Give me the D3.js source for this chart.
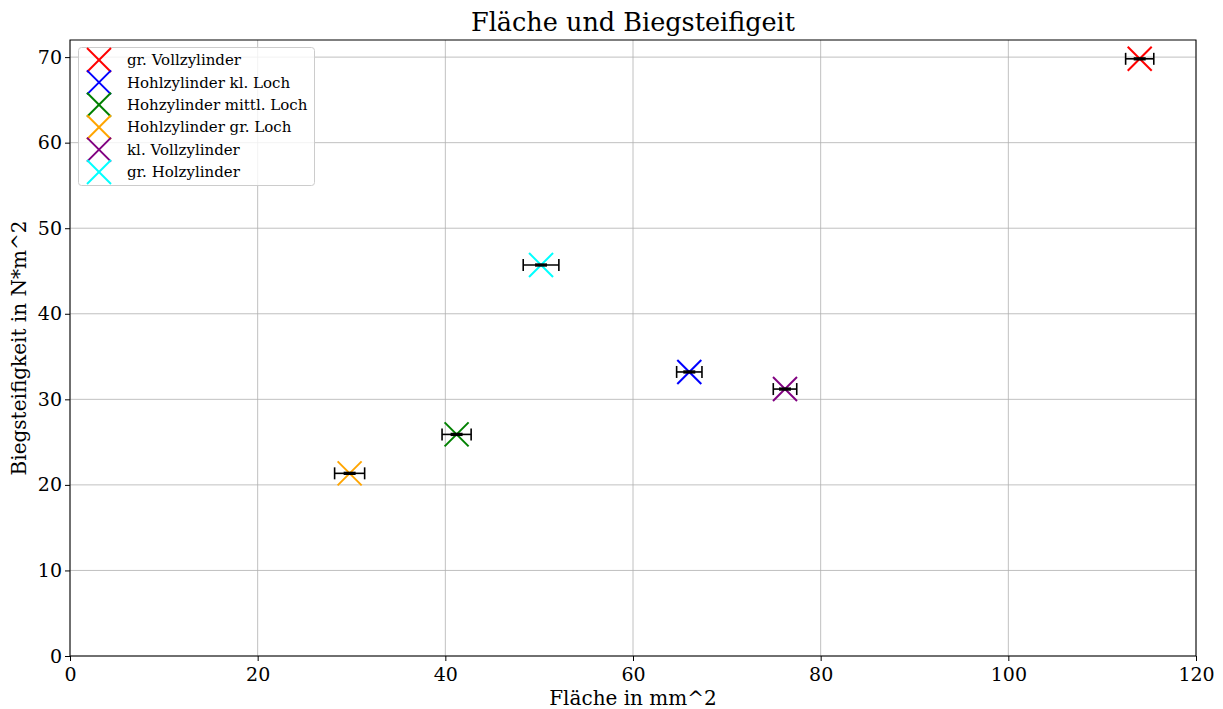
<!DOCTYPE html>
<html>
<head>
<meta charset="utf-8">
<script src="https://cdn.jsdelivr.net/npm/d3@7"></script>
<style>
  body { margin: 0; background: #fff; }
  svg text { font-family: "DejaVu Serif", serif; }
</style>
</head>
<body>
<svg id="chart" width="1223" height="709"></svg>
<script>
// Fläche (mm^2) vs. Biegesteifigkeit (N*m^2) for each specimen
const labels = ["gr. Vollzylinder", "Hohlzylinder kl. Loch", "Hohzylinder mittl. Loch",
                "Hohlzylinder gr. Loch", "kl. Vollzylinder", "gr. Holzylinder"];
const colors = ["red", "blue", "green", "orange", "purple", "cyan"];
const flaeche = [114.0, 66.0, 41.2, 29.8, 76.2, 50.2];
const flaecheErr = [1.5, 1.35, 1.55, 1.6, 1.25, 1.9];
const steifigkeit = [69.8, 33.2, 25.9, 21.35, 31.2, 45.7];
const steifigkeitErr = [0.1, 0.1, 0.1, 0.1, 0.1, 0.1];
const xTicks = [0, 20, 40, 60, 80, 100, 120];
const yTicks = [0, 10, 20, 30, 40, 50, 60, 70];

const svg = d3.select("#chart");
const m = { left: 70, right: 1196, top: 40, bottom: 656 };
const x = d3.scaleLinear().domain([0, 120]).range([m.left, m.right]);
const y = d3.scaleLinear().domain([0, 72]).range([m.bottom, m.top]);

// grid
const grid = svg.append("g").attr("stroke", "#b0b0b0").attr("stroke-width", 0.8);
xTicks.forEach(t => grid.append("line").attr("x1", x(t)).attr("x2", x(t)).attr("y1", m.top).attr("y2", m.bottom));
yTicks.forEach(t => grid.append("line").attr("x1", m.left).attr("x2", m.right).attr("y1", y(t)).attr("y2", y(t)));

// axes
const xAxis = svg.append("g").attr("transform", `translate(0,${m.bottom})`)
  .call(d3.axisBottom(x).tickValues(xTicks).tickSize(5).tickPadding(3));
const yAxis = svg.append("g").attr("transform", `translate(${m.left},0)`)
  .call(d3.axisLeft(y).tickValues(yTicks).tickSize(5).tickPadding(3));
[xAxis, yAxis].forEach(a => {
  a.select(".domain").remove();
  a.selectAll("text").attr("font-family", "DejaVu Serif").attr("font-size", 19).attr("fill", "#000");
  a.selectAll(".tick line").attr("stroke", "#000").attr("stroke-width", 1);
});
xAxis.selectAll("text").attr("dy", "0.9em");

// frame
svg.append("rect").attr("x", m.left).attr("y", m.top)
  .attr("width", m.right - m.left).attr("height", m.bottom - m.top)
  .attr("fill", "none").attr("stroke", "#000").attr("stroke-width", 1);

// markers
const half = 12;
function cross(g, cx, cy, color) {
  g.append("line").attr("x1", cx - half).attr("y1", cy - half).attr("x2", cx + half).attr("y2", cy + half)
    .attr("stroke", color).attr("stroke-width", 2);
  g.append("line").attr("x1", cx - half).attr("y1", cy + half).attr("x2", cx + half).attr("y2", cy - half)
    .attr("stroke", color).attr("stroke-width", 2);
}
const pts = svg.append("g");
flaeche.forEach((fx, i) => {
  const cx = x(fx), cy = y(steifigkeit[i]);
  cross(pts, cx, cy, colors[i]);
  const eb = pts.append("g").attr("stroke", "#000").attr("stroke-width", 1.6);
  const x0 = x(fx - flaecheErr[i]), x1 = x(fx + flaecheErr[i]);
  eb.append("line").attr("x1", x0).attr("x2", x1).attr("y1", cy).attr("y2", cy);
  [x0, x1].forEach(xx => eb.append("line").attr("x1", xx).attr("x2", xx).attr("y1", cy - 6).attr("y2", cy + 6));
  const y0 = y(steifigkeit[i] - steifigkeitErr[i]), y1 = y(steifigkeit[i] + steifigkeitErr[i]);
  eb.append("line").attr("x1", cx).attr("x2", cx).attr("y1", y0).attr("y2", y1);
  [y0, y1].forEach(yy => eb.append("line").attr("x1", cx - 6).attr("x2", cx + 6).attr("y1", yy).attr("y2", yy));
});

// title and axis labels
svg.append("text").attr("x", (m.left + m.right) / 2).attr("y", 31).attr("text-anchor", "middle")
  .attr("font-size", 25.5).text("Fläche und Biegsteifigeit");
svg.append("text").attr("x", (m.left + m.right) / 2).attr("y", 705).attr("text-anchor", "middle")
  .attr("font-size", 20).text("Fläche in mm^2");
svg.append("text").attr("transform", `translate(26,${(m.top + m.bottom) / 2}) rotate(-90)`)
  .attr("text-anchor", "middle").attr("font-size", 20).text("Biegsteifigkeit in N*m^2");

// legend
const lg = svg.append("g");
lg.append("rect").attr("x", 78.5).attr("y", 47.5).attr("width", 236).attr("height", 138).attr("rx", 3)
  .attr("fill", "#fff").attr("fill-opacity", 0.8).attr("stroke", "#ccc").attr("stroke-width", 1);
labels.forEach((l, i) => {
  const ly = 60 + i * 22.4;
  cross(lg, 99, ly, colors[i]);
  lg.append("text").attr("x", 127).attr("y", ly).attr("dy", "0.35em").attr("font-size", 15).text(l);
});
</script>
</body>
</html>
